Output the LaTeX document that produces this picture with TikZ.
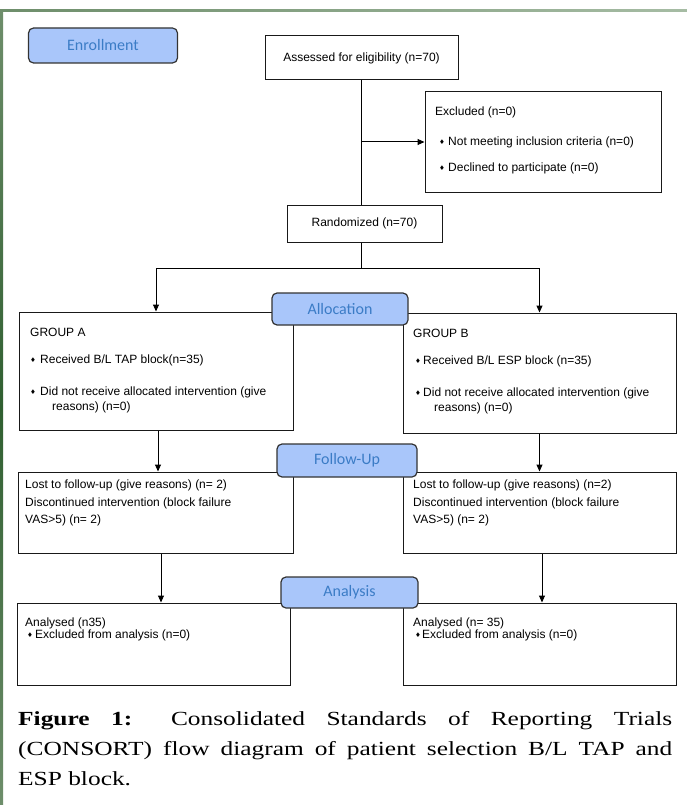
\documentclass[tikz,border=0pt]{standalone}
\usepackage{fontspec}
\setmainfont{Liberation Serif}
\newfontfamily\boxf{Liberation Sans}
\newfontfamily\lblf{Carlito}
\newfontfamily\symf{DejaVu Sans}
\newfontfamily\capf[FakeStretch=1.27]{Liberation Serif}
\usetikzlibrary{arrows.meta}
\definecolor{lblue}{HTML}{A9C6FA}
\definecolor{ltext}{HTML}{3B7CC6}
\definecolor{gdark}{HTML}{2F5F30}
\definecolor{gmid}{HTML}{6E8E6B}
\definecolor{glight}{HTML}{A6BCA4}
\newcommand\dia{{\symf\fontsize{6.5}{6.5}\selectfont ♦}}
\tikzset{
  box/.style={draw=black!90, line width=1pt, inner sep=0pt, font=\boxf\fontsize{12}{14}\selectfont},
  lbl/.style={draw=black!80, line width=1.2pt, fill=lblue, rounded corners=5pt, inner sep=0pt,
              text=ltext, font=\lblf\fontsize{16}{18}\selectfont},
  txt/.style={anchor=west, inner sep=0pt, font=\boxf\fontsize{12}{14}\selectfont},
  capline/.style={anchor=base west, inner sep=0pt, font=\capf\fontsize{20}{24}\selectfont},
  arr/.style={line width=1pt, -{Triangle[length=7pt,width=6pt]}},
  ln/.style={line width=1pt}
}
\begin{document}
\begin{tikzpicture}[x=1pt,y=-1pt]
\useasboundingbox (0,0) rectangle (687,805);
% page decorations
\shade[top color=gmid, bottom color=gmid, middle color=gdark] (0,10) rectangle (3,805);
\shade[left color=gmid, right color=glight] (3,10) rectangle (687,12);

% boxes
\node[box, minimum width=193pt, minimum height=44pt] (assess) at (361.5,58) {Assessed for eligibility (n=70)};
\node[box, minimum width=236pt, minimum height=100pt] (excl) at (543,142) {};
\node[box, minimum width=155pt, minimum height=37pt] (rand) at (364.5,223.5) {Randomized (n=70)};
\node[box, minimum width=274pt, minimum height=118pt] (grpA) at (156,371) {};
\node[box, minimum width=273pt, minimum height=120pt] (grpB) at (539.5,373) {};
\node[box, minimum width=275pt, minimum height=81pt] (fuA) at (155.5,512.5) {};
\node[box, minimum width=273pt, minimum height=81pt] (fuB) at (539.5,512.5) {};
\node[box, minimum width=273pt, minimum height=82pt] (anA) at (153.5,644) {};
\node[box, minimum width=273pt, minimum height=82pt] (anB) at (539.5,644) {};

% texts: excluded
\node[txt] (exT) at (435,112) {Excluded (n=0)};
\node[txt] (exB1) at (439,142) {\dia};
\node[txt] (exT1) at (448,142) {Not meeting inclusion criteria (n=0)};
\node[txt] (exB2) at (439,168) {\dia};
\node[txt] (exT2) at (448,168) {Declined to participate (n=0)};

% group A
\node[txt] (gaT) at (30,332) {GROUP A};
\node[txt] (gaB1) at (30,360) {\dia};
\node[txt] (gaT1) at (40,360) {Received B/L TAP block(n=35)};
\node[txt] (gaB2) at (30,392) {\dia};
\node[txt] (gaT2) at (40,392) {Did not receive allocated intervention (give};
\node[txt] (gaT3) at (52,407) {reasons) (n=0)};

% group B
\node[txt] (gbT) at (413,333) {GROUP B};
\node[txt] (gbB1) at (415,361) {\dia};
\node[txt] (gbT1) at (423,361) {Received B/L ESP block (n=35)};
\node[txt] (gbB2) at (415,393) {\dia};
\node[txt] (gbT2) at (423,393) {Did not receive allocated intervention (give};
\node[txt] (gbT3) at (434,408) {reasons) (n=0)};

% follow-up
\node[txt] (faT1) at (25,485) {Lost to follow-up (give reasons) (n= 2)};
\node[txt] (faT2) at (25,503) {Discontinued intervention (block failure};
\node[txt] (faT3) at (25,520) {VAS>5) (n= 2)};
\node[txt] (fbT1) at (413,485) {Lost to follow-up (give reasons) (n=2)};
\node[txt] (fbT2) at (413,503) {Discontinued intervention (block failure};
\node[txt] (fbT3) at (413,520) {VAS>5) (n= 2)};

% analysis
\node[txt] (aaT1) at (25,623) {Analysed (n35)};
\node[txt] (aaB) at (27,635) {\dia};
\node[txt] (aaT2) at (35,635) {Excluded from analysis (n=0)};
\node[txt] (abT1) at (413,623) {Analysed (n= 35)};
\node[txt] (abB) at (415,635) {\dia};
\node[txt] (abT2) at (422,635) {Excluded from analysis (n=0)};

% connectors
\draw[ln] (assess.south) -- (assess.south |- rand.north);
\coordinate (jx) at (assess.south |- excl.west);
\draw[arr] (jx) -- (excl.west);
\coordinate (split) at (361.5,268);
\draw[ln] (assess.south |- rand.south) -- (split);
\draw[arr] (split) -| (grpA.north);
\draw[arr] (split) -| (grpB.north);
\draw[arr] ([xshift=2pt]grpA.south) -- ([xshift=2pt]grpA.south |- fuA.north);
\draw[arr] (grpB.south) -- (grpB.south |- fuB.north);
\draw[arr] ([xshift=5.5pt]fuA.south) -- ([xshift=5.5pt]fuA.south |- anA.north);
\draw[arr] ([xshift=2.5pt]fuB.south) -- ([xshift=2.5pt]fuB.south |- anB.north);

% stage labels
\node[lbl, minimum width=149pt, minimum height=35pt] (enroll) at (103,45.5) {Enrollment};
\node[lbl, minimum width=136pt, minimum height=32pt] (alloc) at (340,309) {Allocation};
\node[lbl, minimum width=140pt, minimum height=33pt] (follow) at (347,460.5) {Follow-Up};
\node[lbl, minimum width=137pt, minimum height=31pt] (analysis) at (349.5,592.5) {Analysis};

% caption
\node[capline] (cap1) at (18,725) {\makebox[654pt][s]{\textbf{Figure 1:} Consolidated Standards of Reporting Trials}};
\node[capline] (cap2) at (18,755) {\makebox[654pt][s]{(CONSORT) flow diagram of patient selection B/L TAP and}};
\node[capline] (cap3) at (18,785) {ESP block.};
\end{tikzpicture}
\end{document}
